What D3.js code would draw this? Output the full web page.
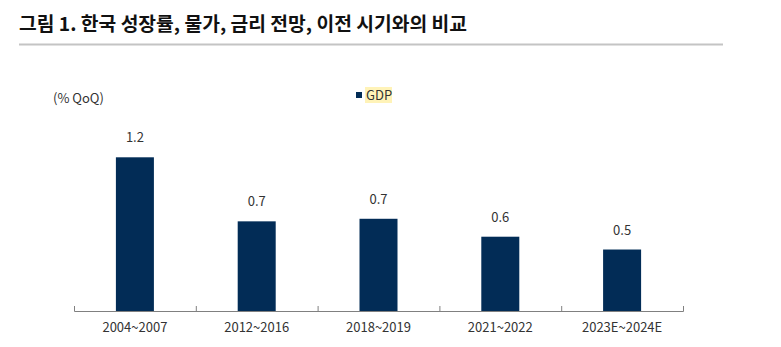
<!DOCTYPE html>
<html>
<head>
<meta charset="utf-8">
<script src="https://cdn.jsdelivr.net/npm/d3@7"></script>
<style>
  body { margin: 0; background: white; }
  svg { display: block; }
</style>
</head>
<body>
<script>
// chart data
var titleText = "그림 1. 한국 성장률, 물가, 금리 전망, 이전 시기와의 비교";
var unitLabel = "(% QoQ)";
var seriesName = "GDP";
var periods = ["2004~2007", "2012~2016", "2018~2019", "2021~2022", "2023E~2024E"];
var gdp = [1.2, 0.70, 0.72, 0.58, 0.48];

var width = 781, height = 347;
var margin = {left: 74, right: 98, top: 60, bottom: 36};

var svg = d3.select("body")
    .append("svg")
    .attr("width", width)
    .attr("height", height);

// title and rule under it
svg.append("text")
    .attr("x", 19)
    .attr("y", 31)
    .attr("textLength", 448)
    .attr("lengthAdjust", "spacingAndGlyphs")
    .style("font-family", "'Noto Sans CJK KR'")
    .style("font-weight", "bold")
    .style("font-size", "19px")
    .style("fill", "#111")
    .text(titleText);

svg.append("line")
    .attr("x1", 19).attr("x2", 723)
    .attr("y1", 44.5).attr("y2", 44.5)
    .style("stroke", "#c4c4c4")
    .style("stroke-width", 2);

// scales
var x = d3.scaleBand()
    .domain(periods)
    .range([margin.left, width - margin.right])
    .paddingInner(0.688)
    .paddingOuter(0.344);

var y = d3.scaleLinear()
    .domain([0, 1.2])
    .range([311, 157.3]);

// bars
svg.selectAll(".bar")
    .data(gdp)
    .enter()
    .append("rect")
    .attr("class", "bar")
    .attr("x", function(d, i) { return x(periods[i]); })
    .attr("y", function(d) { return y(d); })
    .attr("width", x.bandwidth())
    .attr("height", function(d) { return y(0) - y(d); })
    .style("fill", "#022c56");

// value labels
svg.selectAll(".val")
    .data(gdp)
    .enter()
    .append("text")
    .attr("class", "val")
    .attr("x", function(d, i) { return x(periods[i]) + x.bandwidth() / 2; })
    .attr("y", function(d) { return y(d) - 15; })
    .style("text-anchor", "middle")
    .style("font-family", "'Noto Sans CJK KR'")
    .style("font-size", "13px")
    .style("fill", "#333")
    .text(function(d) { return d3.format(".1f")(d); });

// x axis, ticks between the categories pointing up
var xEdges = d3.scaleLinear()
    .domain([0, periods.length])
    .range([margin.left, width - margin.right]);

var axis = svg.append("g")
    .attr("transform", "translate(0,311)")
    .call(d3.axisBottom(xEdges).ticks(periods.length).tickSize(-5).tickFormat(""));
axis.select(".domain").attr("stroke", "#808080");
axis.selectAll(".tick line").attr("stroke", "#808080");

svg.selectAll(".xlab")
    .data(periods)
    .enter()
    .append("text")
    .attr("class", "xlab")
    .attr("x", function(d) { return x(d) + x.bandwidth() / 2; })
    .attr("y", 332)
    .style("text-anchor", "middle")
    .style("font-family", "'Noto Sans CJK KR'")
    .style("font-size", "13px")
    .style("fill", "#333")
    .text(function(d) { return d; });

// unit label
svg.append("text")
    .attr("x", 53)
    .attr("y", 103)
    .style("font-family", "'Noto Sans CJK KR'")
    .style("font-size", "13px")
    .style("fill", "#333")
    .text(unitLabel);

// legend
var legend = svg.append("g").attr("transform", "translate(356,0)");
legend.append("rect")
    .attr("x", 0).attr("y", 92)
    .attr("width", 6).attr("height", 6)
    .style("fill", "#022c56");
legend.append("rect")
    .attr("x", 9).attr("y", 87)
    .attr("width", 27).attr("height", 16)
    .style("fill", "#fff3b8");
legend.append("text")
    .attr("x", 10)
    .attr("y", 100)
    .style("font-family", "'Noto Sans CJK KR'")
    .style("font-size", "13px")
    .style("fill", "#333")
    .text(seriesName);
</script>
</body>
</html>
